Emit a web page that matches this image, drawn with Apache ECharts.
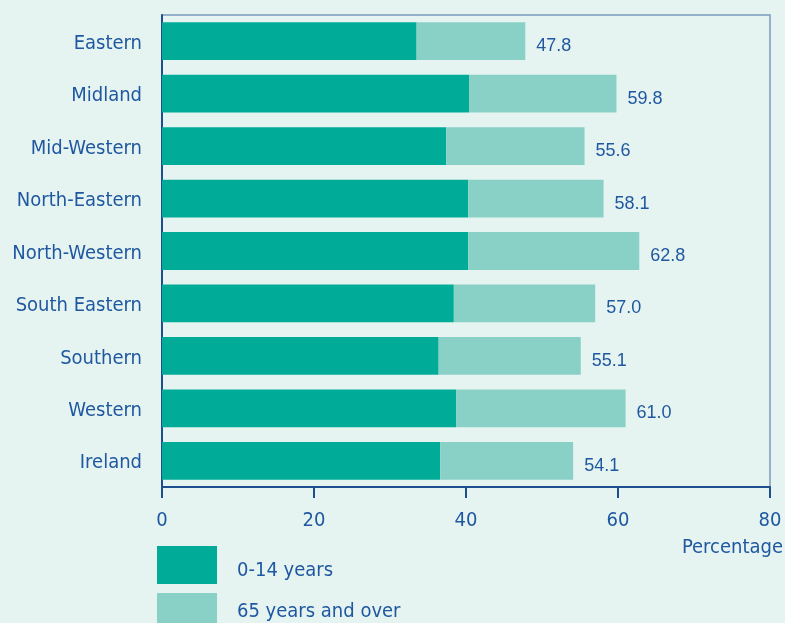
<!DOCTYPE html>
<html>
<head>
<meta charset="utf-8">
<script src="https://cdn.jsdelivr.net/npm/echarts@6/dist/echarts.min.js"></script>
<style>
html,body{margin:0;padding:0;background:#e6f4f1;}
#chart{width:785px;height:623px;}
</style>
</head>
<body>
<div id="chart"></div>
<script>
const categories = ['Eastern','Midland','Mid-Western','North-Eastern','North-Western','South Eastern','Southern','Western','Ireland'];
const young = [33.5, 40.4, 37.4, 40.3, 40.3, 38.4, 36.4, 38.7, 36.6];
const totals = [47.8, 59.8, 55.6, 58.1, 62.8, 57.0, 55.1, 61.0, 54.1];
const old = [14.3, 19.4, 18.2, 17.8, 22.5, 18.6, 18.7, 22.3, 17.5];
const xTicks = [0, 20, 40, 60, 80];
const seriesNames = ['0-14 years', '65 years and over'];

const TXT = '#1f58a0';
const AX = '#1d4f8f';
const condensed = '"Liberation Sans Narrow", "DejaVu Sans Condensed", "Roboto Condensed", sans-serif';

const legendBase = {
  orient: 'vertical', left: 157, itemWidth: 60, itemHeight: 38, padding: 0,
  icon: 'rect', formatter: name => '{a|' + name + '}'
};

const chart = echarts.init(document.getElementById('chart'));
chart.setOption({
  backgroundColor: '#e6f4f1',
  animation: false,
  grid: {left: 162, right: 15, top: 15, bottom: 136, show: true, borderColor: '#7b99bf', borderWidth: 1.5, backgroundColor: 'transparent'},
  legend: [
    Object.assign({}, legendBase, {top: 546, data: [seriesNames[0]],
      textStyle: {color: TXT, fontSize: 20, fontFamily: condensed,
        rich: {a: {color: TXT, fontSize: 20, fontFamily: condensed, padding: [12, 0, 0, 15]}}}}),
    Object.assign({}, legendBase, {top: 593, data: [seriesNames[1]],
      textStyle: {color: TXT, fontSize: 20, fontFamily: condensed,
        rich: {a: {color: TXT, fontSize: 20, fontFamily: condensed, padding: [0, 0, 0, 15]}}}})
  ],
  xAxis: {
    type: 'value', min: xTicks[0], max: xTicks[xTicks.length - 1], interval: 20,
    axisLine: {show: true, lineStyle: {color: AX, width: 2}},
    axisTick: {show: true, length: 11, lineStyle: {color: AX, width: 2}},
    splitLine: {show: false},
    axisLabel: {color: TXT, fontSize: 20, fontFamily: condensed, margin: 24}
  },
  yAxis: {
    type: 'category', data: categories, inverse: true,
    axisLine: {show: true, lineStyle: {color: AX, width: 2}},
    axisTick: {show: false},
    axisLabel: {color: TXT, fontSize: 20, fontFamily: condensed, margin: 20,
      formatter: v => '{a|' + v + '}',
      rich: {a: {color: TXT, fontSize: 20, fontFamily: condensed, padding: [5, 0, 0, 0]}}}
  },
  series: [
    {name: seriesNames[0], type: 'bar', stack: 'a', data: young, barWidth: '72%',
     itemStyle: {color: '#00ac98'}},
    {name: seriesNames[1], type: 'bar', stack: 'a', data: old, barWidth: '72%',
     itemStyle: {color: '#89d1c6'},
     label: {show: true, position: 'right', distance: 11, offset: [0, 5],
       color: TXT, fontSize: 18, fontFamily: '"Liberation Sans", Arial, sans-serif',
       formatter: p => totals[p.dataIndex].toFixed(1)}}
  ],
  graphic: [
    {type: 'text', right: 2, top: 538, style: {text: 'Percentage', fill: TXT, fontSize: 20, fontFamily: condensed}}
  ]
});
</script>
</body>
</html>
